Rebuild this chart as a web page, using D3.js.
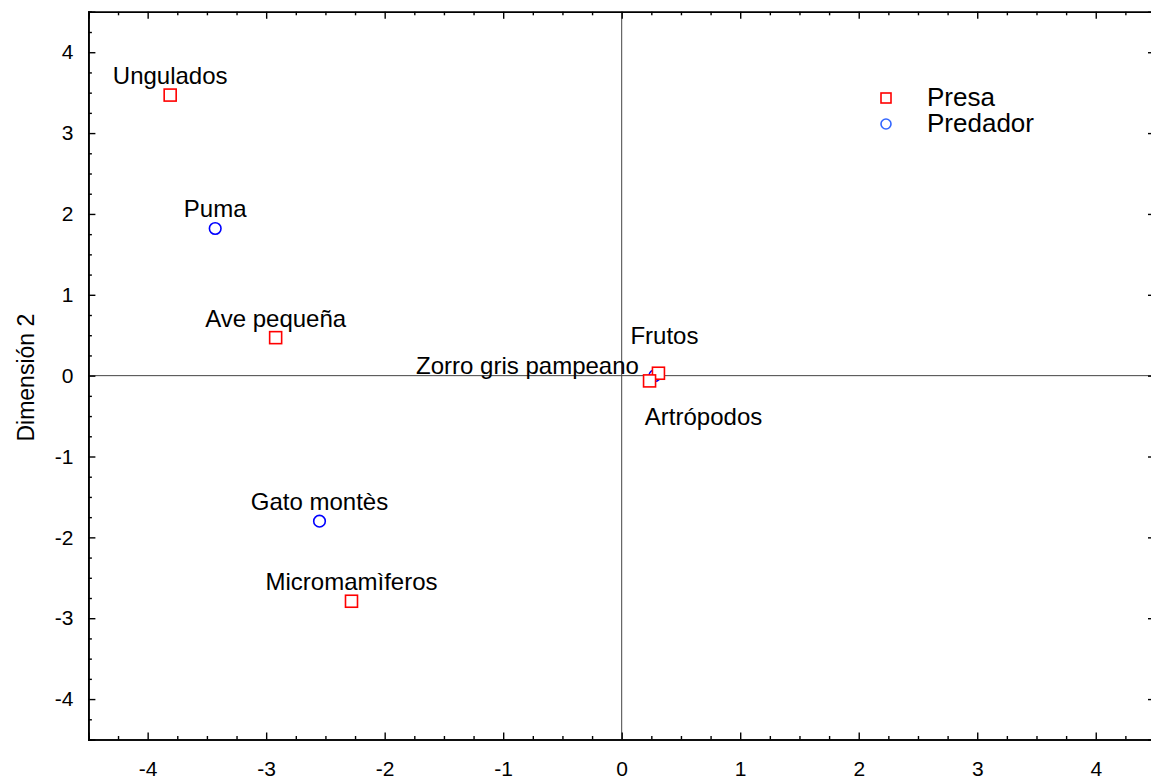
<!DOCTYPE html>
<html>
<head>
<meta charset="utf-8">
<script src="https://cdn.jsdelivr.net/npm/d3@7"></script>
<style>
  body { margin: 0; background: #fff; }
  svg { display: block; font-family: "Liberation Sans", Arial, sans-serif; }
</style>
</head>
<body>
<svg id="chart" width="1151" height="781"></svg>
<script>
// prey points (Presa)
const presaNames = ["Ungulados", "Ave pequeña", "Micromamìferos", "Frutos", "Artrópodos"];
const presaX = [-3.81, -2.92, -2.28, 0.31, 0.235];
const presaY = [3.47, 0.47, -2.79, 0.03, -0.065];

// predator points (Predador)
const predNames = ["Puma", "Gato montès", "Zorro gris pampeano"];
const predX = [-3.43, -2.55, 0.28];
const predY = [1.82, -1.80, 0.0];

const majorTicks = [-4, -3, -2, -1, 0, 1, 2, 3, 4];
const legendItems = ["Presa", "Predador"];

// where each label sits relative to its point (layout only)
const labelPlace = {
    "Frutos": {dx: 6, dy: -29, anchor: "middle"},
    "Artrópodos": {dx: 54, dy: 44, anchor: "middle"},
    "Zorro gris pampeano": {dx: -16, dy: -2, anchor: "end"}
};

const svg = d3.select("#chart");
const plotL = 88.4, plotR = 1155, plotT = 11.8, plotB = 739.5;

const x = d3.scaleLinear().domain([-4.5, 4.5]).range([plotL, plotR]);
const y = d3.scaleLinear().domain([-4.5, 4.5]).range([plotB, plotT]);

const minorTicks = d3.range(-4.5, 4.51, 0.25).filter(v => Math.abs(v - Math.round(v)) > 0.01);

// zero lines
svg.append("line")
    .attr("x1", x(0)).attr("x2", x(0)).attr("y1", plotT).attr("y2", plotB)
    .attr("stroke", "#444").attr("stroke-width", 1);
svg.append("line")
    .attr("x1", plotL).attr("x2", plotR).attr("y1", y(0)).attr("y2", y(0))
    .attr("stroke", "#444").attr("stroke-width", 1);

/**
 * Draws one side of the frame with major and minor ticks pointing inward
 */
function drawSide(axisFn, scale, transform, showLabels){
    let g = svg.append("g").attr("transform", transform);
    g.call(axisFn(scale).tickValues(minorTicks).tickSize(-3.5).tickFormat(""));
    let major = svg.append("g").attr("transform", transform);
    major.call(axisFn(scale).tickValues(majorTicks).tickSize(-7)
        .tickPadding(axisFn === d3.axisBottom ? 22 : 15)
        .tickFormat(showLabels ? d3.format("d") : ""));
    for(let a of [g, major]){
        a.select(".domain").attr("stroke", "#000").attr("stroke-width", 1.6);
        a.selectAll(".tick line").attr("stroke", "#000").attr("stroke-width", 1.4);
    }
    if(showLabels){
        major.selectAll("text").attr("font-size", 21).attr("fill", "#000")
            .text(d => d < 0 ? "-" + Math.abs(d) : d);
    }
    return major;
}

drawSide(d3.axisBottom, x, `translate(0,${plotB})`, true);
drawSide(d3.axisTop, x, `translate(0,${plotT})`, false);
drawSide(d3.axisLeft, y, `translate(${plotL},0)`, true);
drawSide(d3.axisRight, y, `translate(${plotR},0)`, false);

// y axis title
svg.append("text")
    .attr("transform", `translate(34,${y(0) + 2}) rotate(-90)`)
    .attr("text-anchor", "middle")
    .attr("font-size", 23)
    .text("Dimensión 2");

// build point tables from the arrays
let presa = presaNames.map((n, i) => ({name: n, x: presaX[i], y: presaY[i]}));
let pred = predNames.map((n, i) => ({name: n, x: predX[i], y: predY[i]}));

// labels
for(let d of presa.concat(pred)){
    let p = labelPlace[d.name] || {dx: 0, dy: -11, anchor: "middle"};
    svg.append("text")
        .attr("x", x(d.x) + p.dx)
        .attr("y", y(d.y) + p.dy)
        .attr("text-anchor", p.anchor)
        .attr("font-size", 24)
        .text(d.name);
}

// predators (circles) under prey squares
svg.selectAll("circle.pred").data(pred).join("circle")
    .attr("class", "pred")
    .attr("cx", d => x(d.x)).attr("cy", d => y(d.y)).attr("r", 5.8)
    .attr("fill", "#fff").attr("stroke", "#0000ff").attr("stroke-width", 1.6);

svg.selectAll("rect.presa").data(presa).join("rect")
    .attr("class", "presa")
    .attr("x", d => x(d.x) - 6).attr("y", d => y(d.y) - 6)
    .attr("width", 12).attr("height", 12)
    .attr("fill", "#fff").attr("stroke", "#ff0000").attr("stroke-width", 1.6);

// legend
let legend = svg.append("g").attr("transform", "translate(886,98)");
legend.append("rect").attr("x", -5).attr("y", -5).attr("width", 10).attr("height", 10)
    .attr("fill", "#fff").attr("stroke", "#ff0000").attr("stroke-width", 1.6);
legend.append("circle").attr("cx", 0).attr("cy", 26).attr("r", 5)
    .attr("fill", "#fff").attr("stroke", "#3366ff").attr("stroke-width", 1.6);
legend.selectAll("text.leg").data(legendItems).join("text")
    .attr("class", "leg")
    .attr("x", 41).attr("y", (d, i) => 8 + i * 26)
    .attr("font-size", 26)
    .text(d => d);
</script>
</body>
</html>
